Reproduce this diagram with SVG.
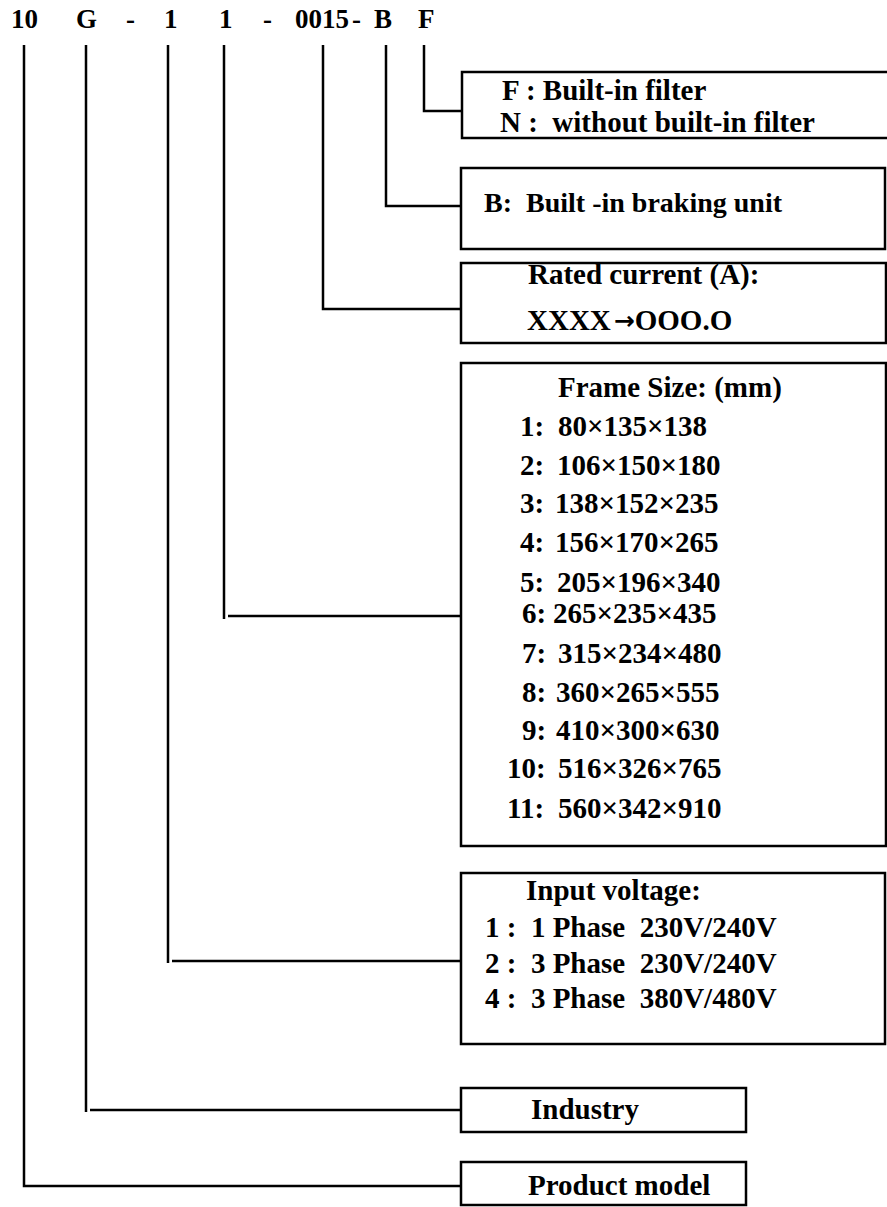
<svg xmlns="http://www.w3.org/2000/svg" width="887" height="1207" viewBox="0 0 887 1207">
<style>
text{font-family:"Liberation Serif","Times New Roman","Noto Sans CJK SC",serif;font-weight:bold;fill:#000;}
.hd{font-size:27px;}
.t{font-size:29px;}
.box{fill:#fff;stroke:#000;stroke-width:2.5;}
.ln{fill:none;stroke:#000;stroke-width:2.5;}
.arr{font-family:"DejaVu Sans",sans-serif;font-size:25px;}
</style>
<rect width="887" height="1207" fill="#fff"/>
<g id="header">
<text class="hd" x="11" y="28">10</text>
<text class="hd" x="76" y="28">G</text>
<text class="hd" x="126" y="28">-</text>
<text class="hd" x="164" y="28">1</text>
<text class="hd" x="219" y="28">1</text>
<text class="hd" x="263" y="28">-</text>
<text class="hd" x="295" y="28">0015</text>
<text class="hd" x="352" y="28">-</text>
<text class="hd" x="374" y="28">B</text>
<text class="hd" x="418" y="28">F</text>
</g>
<g id="connectors">
<path class="ln" d="M424,45 V111 H462"/>
<path class="ln" d="M386,45 V206 H461"/>
<path class="ln" d="M323,45 V309 H461"/>
<path class="ln" d="M224,45 V619 M228,616 H461"/>
<path class="ln" d="M168,45 V963 M172,961 H461"/>
<path class="ln" d="M86,45 V1112 M90,1110 H461"/>
<path class="ln" d="M24,45 V1186 H461"/>
</g>
<g id="node-filter">
<rect class="box" x="462" y="72" width="430" height="66"/>
<text class="t" x="502" y="100">F : Built-in filter</text>
<text class="t" x="500" y="132" xml:space="preserve">N :  without built-in filter</text>
</g>
<g id="node-brake">
<rect class="box" x="461" y="168" width="424" height="81"/>
<text class="t" x="484" y="212" style="font-size:28px" xml:space="preserve">B:  Built -in braking unit</text>
</g>
<g id="node-current">
<rect class="box" x="461" y="263" width="425" height="80"/>
<text class="t" x="528" y="284">Rated current (A):</text>
<text class="t" x="527" y="330">XXXX<tspan class="arr" dx="3" dy="-1">→</tspan><tspan dy="1">OOO.O</tspan></text>
</g>
<g id="node-frame">
<rect class="box" x="461" y="363" width="425" height="483"/>
<text class="t" x="558" y="397">Frame Size: (mm)</text>
<text class="t" y="436"><tspan x="520">1:</tspan><tspan x="558">80×135×138</tspan></text>
<text class="t" y="475"><tspan x="520">2:</tspan><tspan x="557">106×150×180</tspan></text>
<text class="t" y="513"><tspan x="520">3:</tspan><tspan x="555">138×152×235</tspan></text>
<text class="t" y="552"><tspan x="520">4:</tspan><tspan x="555">156×170×265</tspan></text>
<text class="t" y="592"><tspan x="520">5:</tspan><tspan x="557">205×196×340</tspan></text>
<text class="t" y="623"><tspan x="522">6:</tspan><tspan x="553">265×235×435</tspan></text>
<text class="t" y="663"><tspan x="522">7:</tspan><tspan x="558">315×234×480</tspan></text>
<text class="t" y="702"><tspan x="522">8:</tspan><tspan x="556">360×265×555</tspan></text>
<text class="t" y="740"><tspan x="522">9:</tspan><tspan x="556">410×300×630</tspan></text>
<text class="t" y="778"><tspan x="507">10:</tspan><tspan x="558">516×326×765</tspan></text>
<text class="t" y="818"><tspan x="507">11:</tspan><tspan x="558">560×342×910</tspan></text>
</g>
<g id="node-voltage">
<rect class="box" x="461" y="873" width="424" height="171"/>
<text class="t" x="526" y="900">Input voltage:</text>
<text class="t" x="485" y="937" xml:space="preserve">1 :  1 Phase  230V/240V</text>
<text class="t" x="485" y="973" xml:space="preserve">2 :  3 Phase  230V/240V</text>
<text class="t" x="485" y="1008" xml:space="preserve">4 :  3 Phase  380V/480V</text>
</g>
<g id="node-industry">
<rect class="box" x="461" y="1088" width="285" height="44"/>
<text class="t" x="531" y="1119">Industry</text>
</g>
<g id="node-product">
<rect class="box" x="461" y="1162" width="285" height="43"/>
<text class="t" x="528" y="1195">Product model</text>
</g>
</svg>
